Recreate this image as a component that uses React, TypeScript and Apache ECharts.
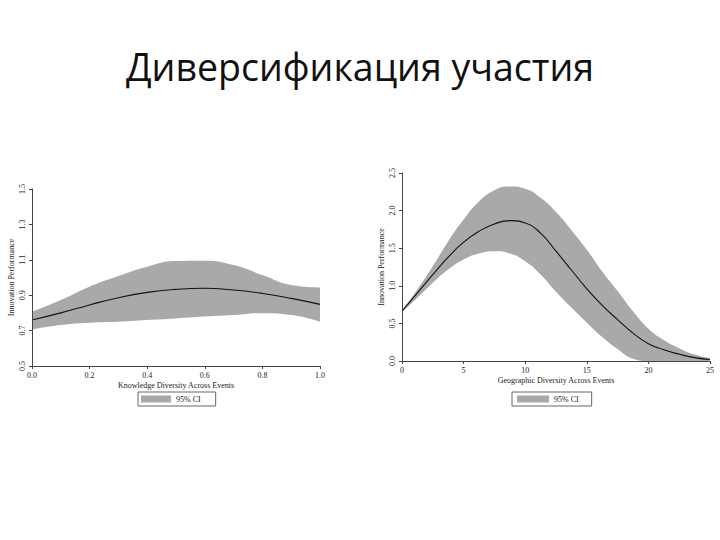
import React, { useEffect, useRef } from "react";
import * as echarts from "echarts";

const titleText = "Диверсификация участия";

// Left chart: Knowledge diversity
const knowX = [0, 0.1, 0.2, 0.3, 0.4, 0.5, 0.6, 0.7, 0.8, 0.9, 1.0];
const knowMean = [0.76, 0.80, 0.845, 0.886, 0.916, 0.933, 0.939, 0.929, 0.91, 0.882, 0.848];
const knowUpper = [0.807, 0.873, 0.948, 1.008, 1.061, 1.093, 1.095, 1.07, 1.014, 0.958, 0.944];
const knowLower = [0.707, 0.732, 0.745, 0.75, 0.76, 0.769, 0.779, 0.788, 0.798, 0.788, 0.75];
const knowYTicks = ["0.5", "0.7", "0.9", "1.1", "1.3", "1.5"];
const knowXTicks = ["0.0", "0.2", "0.4", "0.6", "0.8", "1.0"];

// Right chart: Geographic diversity
const geoX = [0, 1.25, 2.5, 3.75, 5, 6.25, 7.5, 8.75, 10, 11.25, 12.5, 13.75, 15, 16.25, 17.5, 18.75, 20, 21.25, 22.5, 23.75, 25];
const geoMean = [0.664, 0.907, 1.15, 1.38, 1.58, 1.726, 1.823, 1.867, 1.836, 1.70, 1.46, 1.21, 0.96, 0.74, 0.55, 0.37, 0.23, 0.15, 0.09, 0.045, 0.02];
const geoUpper = [0.67, 0.95, 1.26, 1.59, 1.88, 2.12, 2.27, 2.32, 2.29, 2.17, 1.98, 1.74, 1.48, 1.19, 0.93, 0.66, 0.43, 0.28, 0.17, 0.085, 0.035];
const geoLower = [0.65, 0.84, 1.04, 1.217, 1.35, 1.43, 1.46, 1.43, 1.327, 1.15, 0.92, 0.71, 0.51, 0.32, 0.16, 0.03, 0, 0, 0, 0, 0];
const geoYTicks = ["0.0", "0.5", "1.0", "1.5", "2.0", "2.5"];

const BAND = "#a9a9a9";
const AXIS = "#444";
const SERIF = "'Liberation Serif', 'DejaVu Serif', serif";

function pairs(xs: number[], ys: number[]) {
  return xs.map((x, i) => [x, ys[i]]);
}

export default function App() {
  const ref = useRef<HTMLDivElement>(null);
  useEffect(() => {
    if (!ref.current) return;
    const chart = echarts.init(ref.current, undefined, { renderer: "svg" });

    const axisCommon = {
      z: 10,
      axisLine: { show: true, lineStyle: { color: AXIS, width: 1 } },
      axisTick: { show: true, length: 3, lineStyle: { color: AXIS } },
      splitLine: { show: false },
      nameTextStyle: { fontFamily: SERIF, fontSize: 8, color: "#222" },
    };

    const labelStyle = { fontFamily: SERIF, fontSize: 8, color: "#222" };

    const bandUpper = (xi: number, yi: number, data: number[][]) => ({
      name: "95% CI",
      type: "line",
      xAxisIndex: xi,
      yAxisIndex: yi,
      data,
      smooth: true,
      symbol: "none",
      lineStyle: { width: 0 },
      itemStyle: { color: BAND },
      areaStyle: { color: BAND, opacity: 1, origin: "start" },
      z: 1,
    });
    const bandLower = (xi: number, yi: number, data: number[][]) => ({
      type: "line",
      xAxisIndex: xi,
      yAxisIndex: yi,
      data,
      smooth: true,
      symbol: "none",
      lineStyle: { width: 0 },
      itemStyle: { color: "#fff" },
      areaStyle: { color: "#fff", opacity: 1, origin: "start" },
      silent: true,
      z: 2,
    });
    const meanLine = (xi: number, yi: number, data: number[][]) => ({
      type: "line",
      xAxisIndex: xi,
      yAxisIndex: yi,
      data,
      smooth: true,
      symbol: "none",
      lineStyle: { color: "#111", width: 1.1 },
      z: 3,
    });

    chart.setOption({
      animation: false,
      backgroundColor: "#fff",
      title: {
        text: titleText,
        left: "center",
        top: 42,
        textStyle: {
          fontFamily: "'Open Sans', 'Noto Sans', sans-serif",
          fontSize: 37.5,
          fontWeight: "normal",
          color: "#111",
        },
      },
      grid: [
        { left: 32, right: 400, top: 189, bottom: 174 },
        { left: 402, right: 10, top: 173, bottom: 179 },
      ],
      xAxis: [
        {
          ...axisCommon,
          gridIndex: 0,
          type: "value",
          min: 0,
          max: 1,
          interval: 0.2,
          name: "Knowledge Diversity Across Events",
          nameLocation: "middle",
          nameGap: 15,
          axisLabel: {
            ...labelStyle,
            margin: 5,
            formatter: (v: number) => knowXTicks[Math.round(v / 0.2)] ?? "",
          },
        },
        {
          ...axisCommon,
          gridIndex: 1,
          type: "value",
          min: 0,
          max: 25,
          interval: 5,
          name: "Geographic Diversity Across Events",
          nameLocation: "middle",
          nameGap: 15,
          axisLabel: { ...labelStyle, margin: 5 },
        },
      ],
      yAxis: [
        {
          ...axisCommon,
          gridIndex: 0,
          type: "value",
          min: 0.5,
          max: 1.5,
          interval: 0.2,
          name: "Innovation Performance",
          nameLocation: "middle",
          nameGap: 17,
          axisLabel: {
            ...labelStyle,
            rotate: 90,
            margin: 6,
            formatter: (v: number) => knowYTicks[Math.round((v - 0.5) / 0.2)] ?? "",
          },
        },
        {
          ...axisCommon,
          gridIndex: 1,
          type: "value",
          min: 0,
          max: 2.5,
          interval: 0.5,
          name: "Innovation Performance",
          nameLocation: "middle",
          nameGap: 17,
          axisLabel: {
            ...labelStyle,
            rotate: 90,
            margin: 6,
            formatter: (v: number) => geoYTicks[Math.round(v / 0.5)] ?? "",
          },
        },
      ],
      legend: [
        {
          data: [{ name: "95% CI", icon: "rect" }],
          left: 138,
          top: 392,
          itemWidth: 30,
          itemHeight: 7,
          padding: [3, 15, 3, 3],
          borderColor: "#666",
          borderWidth: 1,
          borderRadius: 0,
          selectedMode: false,
          textStyle: { fontFamily: SERIF, fontSize: 8, color: "#222" },
        },
        {
          data: [{ name: "95% CI", icon: "rect" }],
          left: 512,
          top: 392,
          itemWidth: 32,
          itemHeight: 7,
          padding: [3, 13, 3, 5],
          borderColor: "#666",
          borderWidth: 1,
          borderRadius: 0,
          selectedMode: false,
          textStyle: { fontFamily: SERIF, fontSize: 8, color: "#222" },
        },
      ],
      series: [
        bandUpper(0, 0, pairs(knowX, knowUpper)),
        bandLower(0, 0, pairs(knowX, knowLower)),
        meanLine(0, 0, pairs(knowX, knowMean)),
        bandUpper(1, 1, pairs(geoX, geoUpper)),
        bandLower(1, 1, pairs(geoX, geoLower)),
        meanLine(1, 1, pairs(geoX, geoMean)),
      ],
    });
    return () => chart.dispose();
  }, []);
  return <div ref={ref} style={{ width: 720, height: 540, position: "absolute", left: 0, top: 0 }} />;
}
